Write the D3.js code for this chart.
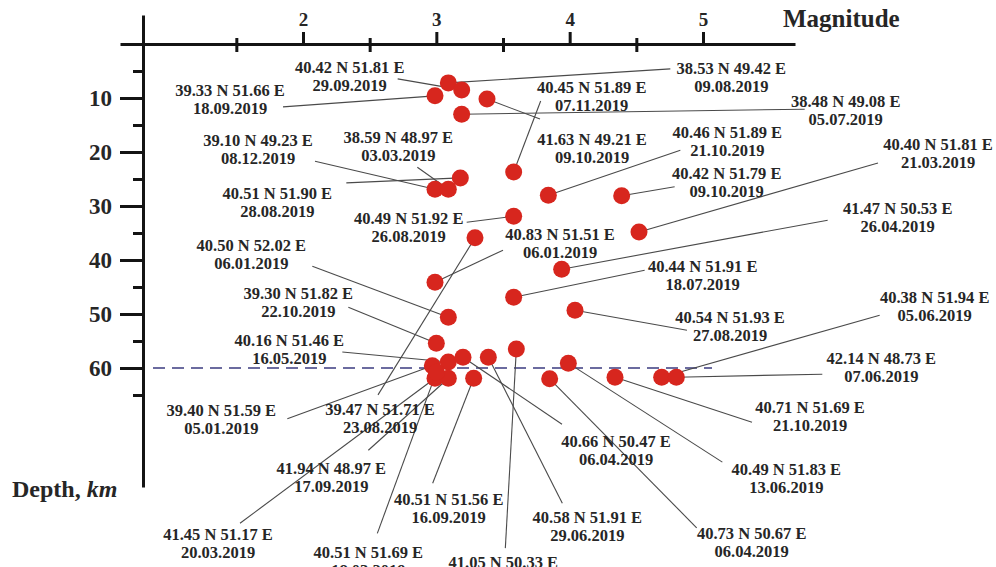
<!DOCTYPE html>
<html>
<head>
<meta charset="utf-8">
<script src="https://cdn.jsdelivr.net/npm/d3@7"></script>
<style>
  html, body { margin: 0; padding: 0; background: #fff; }
  svg { display: block; }
  text { font-family: "Liberation Serif", "Times New Roman", serif; font-weight: bold; fill: #262626; }
</style>
</head>
<body>
<svg id="chart" width="996" height="567"></svg>
<script>
// Earthquake events: magnitude, focal depth (km), epicentre and date
const magnitudes = [3.09, 3.19, 2.99, 3.38, 3.19, 3.58, 3.18, 2.99, 3.09, 3.84, 4.39, 3.58,
  4.52, 3.29, 3.94, 2.99, 3.58, 4.04, 3.09, 3.00, 3.60, 3.09, 3.20, 3.39, 3.99, 2.97,
  2.99, 3.09, 3.28, 3.85, 4.34, 4.69, 4.80, 3.00];
const depths = [7.2, 8.5, 9.6, 10.2, 13.0, 23.7, 24.8, 26.9, 26.9, 28.0, 28.1, 31.9,
  34.8, 35.9, 41.7, 44.1, 46.9, 49.3, 50.6, 55.4, 56.5, 58.9, 58.0, 58.0, 59.1, 59.6,
  61.9, 61.9, 61.9, 62.0, 61.7, 61.7, 61.7, 60.8];
const latitudes = [38.53, 40.42, 39.33, 41.63, 38.48, 40.45, 40.51, 39.10, 38.59, 40.46, 40.42, 40.49,
  40.40, 39.47, 41.47, 40.83, 40.44, 40.54, 40.50, 39.30, 41.05, 40.16, 40.66, 40.58, 40.49, 39.40,
  41.45, 41.94, 40.51, 40.73, 40.71, 40.38, 42.14, 40.51];
const longitudes = [49.42, 51.81, 51.66, 49.21, 49.08, 51.89, 51.90, 49.23, 48.97, 51.89, 51.79, 51.92,
  51.81, 51.71, 50.53, 51.51, 51.91, 51.93, 52.02, 51.82, 50.33, 51.46, 50.47, 51.91, 51.83, 51.59,
  51.17, 48.97, 51.56, 50.67, 51.69, 51.94, 48.73, 51.69];
const dates = ["09.08.2019", "29.09.2019", "18.09.2019", "09.10.2019", "05.07.2019", "07.11.2019",
  "28.08.2019", "08.12.2019", "03.03.2019", "21.10.2019", "09.10.2019", "26.08.2019", "21.03.2019",
  "23.08.2019", "26.04.2019", "06.01.2019", "18.07.2019", "27.08.2019", "06.01.2019", "22.10.2019",
  "", "16.05.2019", "06.04.2019", "29.06.2019", "13.06.2019", "05.01.2019", "20.03.2019",
  "17.09.2019", "16.09.2019", "06.04.2019", "21.10.2019", "05.06.2019", "07.06.2019", "18.03.2019"];

// Axis ticks
const magTicks = [2, 3, 4, 5];
const magMinorTicks = [1.5, 2.5, 3.5, 4.5];
const depthTicks = [10, 20, 30, 40, 50, 60];
const depthMinorTicks = [5, 15, 25, 35, 45, 55, 65];
const thresholdDepth = 60;

// Callout placement relative to each event marker (px):
// [label dx, label dy (first line), leader end dx, leader end dy]
const callouts = [
  [283, -15, 222, -14], [-112, -23, -64, -11], [-205, -6, -152, 11], [105, 40, 53, 20],
  [384, -13, 343, -5], [78, -85, 27, -71], [-183, 15, -114, 5], [-177, -49, -120, -28],
  [-50, -52, -31, -22], [179, -63, 132, -45], [105, -23, 53, -9], [-105, 2, -47, 6],
  [299, -88, 239, -69], [-95, 171, -97, 157], [336, -61, 266, -49], [125, -48, 68, -32],
  [189, -31, 131, -27], [155, 7, 112, 20], [-197, -72, -136, -51], [-138, -50, -88, -36],
  [-13, 213, -11, 199], [-159, -22, -106, -10], [153, 84, 99, 67], [99, 160, 74, 146],
  [218, 106, 154, 99], [-211, 44, -145, 53], [-217, 156, -195, 145], [-117, 90, -80, 72],
  [-25, 121, -41, 105], [202, 154, 147, 149], [195, 30, 137, 45], [273, -80, 218, -62],
  [205, -19, 146, -3], [-68, 180, -59, 161]
];

const events = magnitudes.map((m, i) => ({
  mag: m, depth: depths[i],
  coord: `${latitudes[i].toFixed(2)} N ${longitudes[i].toFixed(2)} E`,
  date: dates[i], callout: callouts[i]
}));

const svg = d3.select("#chart");

const x = d3.scaleLinear().domain([2, 5]).range([303, 703]);
const y = d3.scaleLinear().domain([0, 60]).range([44, 368]);

const originX = 143;            // vertical axis position
const xAxisScale = x.copy().domain([x.invert(120), x.invert(795)]).range([120, 795]);
const yAxisScale = y.copy().domain([y.invert(15), y.invert(487)]).range([15, 487]);

// Reference depth line
svg.append("line")
  .attr("x1", 153).attr("x2", 712)
  .attr("y1", y(thresholdDepth)).attr("y2", y(thresholdDepth))
  .attr("stroke", "#3b3b80").attr("stroke-width", 1.6)
  .attr("stroke-dasharray", "12,7");

// Leader lines
svg.append("g").selectAll("line").data(events).join("line")
  .attr("x1", d => x(d.mag)).attr("y1", d => y(d.depth))
  .attr("x2", d => x(d.mag) + d.callout[2]).attr("y2", d => y(d.depth) + d.callout[3])
  .attr("stroke", "#4a4a4a").attr("stroke-width", 1.1);

// Event markers
svg.append("g").selectAll("circle").data(events).join("circle")
  .attr("cx", d => x(d.mag)).attr("cy", d => y(d.depth))
  .attr("r", 8.5)
  .attr("fill", "#d7261e");

// Callout text
const labels = svg.append("g").selectAll("text").data(events).join("text")
  .attr("text-anchor", "middle")
  .attr("font-size", 16.5)
  .attr("x", d => x(d.mag) + d.callout[0])
  .attr("y", d => y(d.depth) + d.callout[1]);
labels.append("tspan").attr("dy", "0.35em").text(d => d.coord);
labels.filter(d => d.date).append("tspan")
  .attr("x", d => x(d.mag) + d.callout[0])
  .attr("dy", 18).text(d => d.date);

// Magnitude axis (top)
const axisStyle = g => {
  g.selectAll("path, line").attr("stroke", "#141414").attr("stroke-width", 3);
  g.selectAll("text").attr("fill", "#1e1e1e").attr("font-family", "'Liberation Serif', 'Times New Roman', serif").attr("font-weight", "bold");
};

svg.append("g").attr("transform", "translate(0,44)")
  .call(d3.axisTop(xAxisScale).tickValues(magTicks).tickSize(12).tickSizeOuter(0).tickPadding(6).tickFormat(d3.format("d")))
  .call(axisStyle)
  .call(g => g.selectAll("text").attr("font-size", 19));

svg.append("g").attr("transform", "translate(0,44)")
  .call(d3.axisTop(xAxisScale).tickValues(magMinorTicks).tickSize(6).tickFormat(""))
  .call(g => g.select(".domain").remove())
  .call(axisStyle);
svg.append("g").attr("transform", "translate(0,44)")
  .call(d3.axisBottom(xAxisScale).tickValues(magMinorTicks).tickSize(8).tickFormat(""))
  .call(g => g.select(".domain").remove())
  .call(axisStyle);

// Depth axis (left)
svg.append("g").attr("transform", `translate(${originX},0)`)
  .call(d3.axisLeft(yAxisScale).tickValues(depthTicks).tickSize(23).tickSizeOuter(0).tickPadding(8))
  .call(axisStyle)
  .call(g => g.selectAll("text").attr("font-size", 23));

svg.append("g").attr("transform", `translate(${originX},0)`)
  .call(d3.axisLeft(yAxisScale).tickValues(depthMinorTicks).tickSize(10).tickFormat(""))
  .call(g => g.select(".domain").remove())
  .call(axisStyle);

// Axis titles
svg.append("text").attr("x", 783).attr("y", 27)
  .attr("font-size", 25).attr("fill", "#1e1e1e").text("Magnitude");

const depthTitle = svg.append("text").attr("x", 12).attr("y", 497)
  .attr("font-size", 24).attr("fill", "#1e1e1e");
depthTitle.append("tspan").text("Depth, ");
depthTitle.append("tspan").attr("font-style", "italic").text("km");
</script>
</body>
</html>
